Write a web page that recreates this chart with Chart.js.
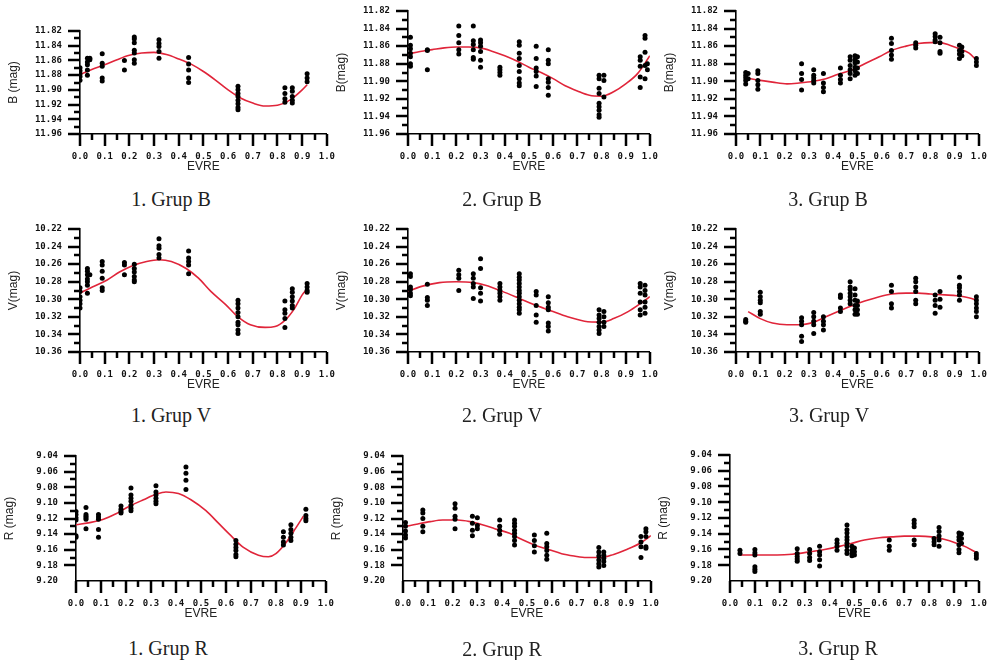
<!DOCTYPE html>
<html>
<head>
<meta charset="utf-8">
<script src="https://cdn.jsdelivr.net/npm/chart.js@4.4.0/dist/chart.umd.min.js"></script>
<style>
  body { margin: 0; background: #fff; }
  #wrap { position: relative; width: 991px; height: 660px; overflow: hidden; }
  #wrap canvas { position: absolute; }
  .ttl { position: absolute; font: 20px "Liberation Serif", "Times New Roman", serif; color: #222;
         transform: translate(-50%, -50%); white-space: nowrap; }
</style>
</head>
<body>
<div id="wrap"></div>
<script>
// --- Grup 1, B ---
const b1Phase = [0.00, 0.03, 0.04, 0.09, 0.18, 0.22, 0.32, 0.44, 0.64, 0.83, 0.86, 0.92];
const b1Mag = [
  [11.870, 11.874, 11.878, 11.882, 11.887],
  [11.857, 11.862, 11.866, 11.873, 11.880],
  [11.857, 11.859],
  [11.851, 11.864, 11.868, 11.884, 11.888],
  [11.860, 11.873],
  [11.828, 11.831, 11.836, 11.846, 11.850, 11.859, 11.864],
  [11.832, 11.837, 11.841, 11.848, 11.857],
  [11.856, 11.865, 11.873, 11.884, 11.890],
  [11.895, 11.900, 11.905, 11.909, 11.914, 11.919, 11.924, 11.927],
  [11.897, 11.905, 11.912, 11.917],
  [11.897, 11.902, 11.909, 11.914, 11.918],
  [11.878, 11.884, 11.889]
];
const b1FitX = [0.00, 0.05, 0.10, 0.15, 0.20, 0.25, 0.30, 0.35, 0.40, 0.45, 0.50, 0.55, 0.60, 0.65, 0.70, 0.75, 0.80, 0.85, 0.90, 0.92];
const b1Fit = [11.879, 11.872, 11.866, 11.859, 11.853, 11.850, 11.849, 11.852, 11.858, 11.865, 11.875, 11.887, 11.900, 11.911, 11.918, 11.922, 11.921, 11.914, 11.900, 11.893];

// --- Grup 2, B ---
const b2Phase = [0.01, 0.08, 0.21, 0.27, 0.30, 0.38, 0.46, 0.53, 0.58, 0.79, 0.81, 0.96, 0.98, 0.99];
const b2Mag = [
  [11.850, 11.859, 11.863, 11.868, 11.872, 11.880, 11.883],
  [11.864, 11.865, 11.887],
  [11.837, 11.848, 11.856, 11.864, 11.869],
  [11.837, 11.854, 11.858, 11.864, 11.873, 11.875],
  [11.853, 11.856, 11.860, 11.866, 11.876, 11.884],
  [11.884, 11.887, 11.890, 11.893],
  [11.855, 11.859, 11.868, 11.874, 11.882, 11.889, 11.897, 11.902, 11.905],
  [11.860, 11.874, 11.885, 11.889, 11.894, 11.906],
  [11.864, 11.876, 11.880, 11.897, 11.901, 11.907, 11.916],
  [11.893, 11.897, 11.908, 11.914, 11.925, 11.929, 11.933, 11.938, 11.941],
  [11.893, 11.899, 11.918],
  [11.872, 11.876, 11.883, 11.895, 11.907],
  [11.848, 11.851, 11.867, 11.882, 11.897],
  [11.880, 11.887]
];
const b2FitX = [0.00, 0.05, 0.10, 0.15, 0.20, 0.25, 0.30, 0.35, 0.40, 0.45, 0.50, 0.55, 0.60, 0.65, 0.70, 0.75, 0.80, 0.85, 0.90, 0.95, 1.00];
const b2Fit = [11.869, 11.866, 11.864, 11.862, 11.861, 11.861, 11.862, 11.866, 11.871, 11.877, 11.884, 11.890, 11.897, 11.905, 11.911, 11.916, 11.917, 11.912, 11.903, 11.891, 11.871];

// --- Grup 3, B ---
const b3Phase = [0.04, 0.05, 0.09, 0.27, 0.32, 0.36, 0.43, 0.47, 0.49, 0.50, 0.64, 0.74, 0.82, 0.84, 0.92, 0.93, 0.99];
const b3Mag = [
  [11.890, 11.893, 11.896, 11.899, 11.903],
  [11.891, 11.897],
  [11.888, 11.891, 11.899, 11.904, 11.909],
  [11.880, 11.891, 11.898, 11.910],
  [11.887, 11.893, 11.896, 11.899, 11.902],
  [11.891, 11.902, 11.907, 11.912],
  [11.885, 11.893, 11.898, 11.902],
  [11.872, 11.876, 11.882, 11.887, 11.891, 11.897],
  [11.871, 11.875, 11.879, 11.884, 11.888, 11.893],
  [11.872, 11.878, 11.885, 11.891],
  [11.851, 11.857, 11.865, 11.870, 11.875],
  [11.856, 11.859, 11.862],
  [11.846, 11.849, 11.853, 11.855],
  [11.850, 11.856, 11.866, 11.868],
  [11.859, 11.865, 11.869, 11.874],
  [11.861, 11.866, 11.871],
  [11.874, 11.878, 11.882]
];
const b3FitX = [0.04, 0.10, 0.15, 0.21, 0.26, 0.32, 0.37, 0.42, 0.48, 0.53, 0.59, 0.64, 0.70, 0.75, 0.80, 0.84, 0.88, 0.92, 0.96, 0.99];
const b3Fit = [11.896, 11.899, 11.901, 11.903, 11.902, 11.900, 11.897, 11.892, 11.887, 11.880, 11.872, 11.865, 11.860, 11.857, 11.856, 11.856, 11.859, 11.863, 11.868, 11.876];

// --- Grup 1, V ---
const v1Phase = [0.00, 0.03, 0.04, 0.09, 0.18, 0.22, 0.32, 0.44, 0.64, 0.83, 0.86, 0.92];
const v1Mag = [
  [10.287, 10.291, 10.297, 10.301, 10.305, 10.310],
  [10.265, 10.268, 10.272, 10.277, 10.280, 10.284, 10.293],
  [10.272],
  [10.257, 10.261, 10.268, 10.276, 10.287, 10.290],
  [10.258, 10.261, 10.272],
  [10.260, 10.265, 10.269, 10.274, 10.278, 10.280],
  [10.231, 10.239, 10.242, 10.249, 10.253],
  [10.245, 10.253, 10.257, 10.261, 10.271],
  [10.301, 10.305, 10.310, 10.315, 10.320, 10.326, 10.329, 10.335, 10.339],
  [10.302, 10.312, 10.316, 10.322, 10.332],
  [10.288, 10.292, 10.297, 10.302, 10.307, 10.310],
  [10.282, 10.286, 10.290, 10.292]
];
const v1FitX = [0.00, 0.05, 0.11, 0.16, 0.21, 0.27, 0.32, 0.37, 0.43, 0.48, 0.53, 0.59, 0.64, 0.69, 0.75, 0.79, 0.83, 0.87, 0.90, 0.92];
const v1Fit = [10.293, 10.286, 10.278, 10.269, 10.262, 10.257, 10.255, 10.257, 10.265, 10.276, 10.291, 10.306, 10.320, 10.329, 10.332, 10.331, 10.324, 10.310, 10.295, 10.288];

// --- Grup 2, V ---
const v2Phase = [0.01, 0.08, 0.21, 0.27, 0.30, 0.38, 0.46, 0.53, 0.58, 0.79, 0.81, 0.96, 0.98];
const v2Mag = [
  [10.271, 10.274, 10.286, 10.289, 10.293, 10.296],
  [10.283, 10.298, 10.301, 10.307],
  [10.267, 10.272, 10.276, 10.290],
  [10.271, 10.276, 10.282, 10.286, 10.299],
  [10.254, 10.265, 10.287, 10.293, 10.302],
  [10.282, 10.286, 10.290, 10.293, 10.297, 10.301],
  [10.271, 10.275, 10.278, 10.282, 10.286, 10.290, 10.293, 10.297, 10.301, 10.305, 10.309, 10.312, 10.316],
  [10.291, 10.295, 10.307, 10.318, 10.326],
  [10.297, 10.304, 10.309, 10.312, 10.327, 10.331, 10.336],
  [10.312, 10.318, 10.322, 10.326, 10.331, 10.335, 10.339],
  [10.314, 10.320, 10.326, 10.331],
  [10.282, 10.286, 10.293, 10.303, 10.312, 10.318],
  [10.284, 10.290, 10.295, 10.303, 10.309, 10.316]
];
const v2FitX = [0.00, 0.06, 0.13, 0.20, 0.27, 0.32, 0.39, 0.46, 0.52, 0.59, 0.66, 0.73, 0.80, 0.85, 0.91, 0.96, 1.00];
const v2Fit = [10.291, 10.285, 10.281, 10.280, 10.281, 10.284, 10.291, 10.299, 10.306, 10.313, 10.320, 10.325, 10.326, 10.322, 10.314, 10.305, 10.297];

// --- Grup 3, V ---
const v3Phase = [0.04, 0.10, 0.27, 0.32, 0.36, 0.43, 0.47, 0.49, 0.50, 0.64, 0.74, 0.82, 0.84, 0.92, 0.99];
const v3Mag = [
  [10.323, 10.325, 10.326],
  [10.292, 10.297, 10.301, 10.304, 10.314, 10.317],
  [10.321, 10.325, 10.329, 10.342, 10.348],
  [10.315, 10.320, 10.325, 10.329, 10.339],
  [10.320, 10.325, 10.329, 10.335],
  [10.295, 10.298, 10.310, 10.314],
  [10.280, 10.286, 10.289, 10.293, 10.297, 10.301, 10.305],
  [10.288, 10.295, 10.301, 10.307, 10.312, 10.317],
  [10.302, 10.307, 10.312, 10.317],
  [10.284, 10.291, 10.305, 10.310],
  [10.276, 10.280, 10.286, 10.291, 10.301, 10.305],
  [10.295, 10.301, 10.307, 10.316],
  [10.291, 10.300, 10.309],
  [10.275, 10.284, 10.287, 10.291, 10.295, 10.301],
  [10.297, 10.301, 10.305, 10.310, 10.314, 10.320]
];
const v3FitX = [0.05, 0.10, 0.15, 0.21, 0.26, 0.32, 0.37, 0.42, 0.48, 0.53, 0.59, 0.64, 0.70, 0.75, 0.80, 0.86, 0.91, 0.97, 0.99];
const v3Fit = [10.314, 10.322, 10.327, 10.329, 10.329, 10.326, 10.320, 10.314, 10.307, 10.302, 10.297, 10.294, 10.293, 10.293, 10.294, 10.295, 10.296, 10.299, 10.301];

// --- Grup 1, R ---
const r1Phase = [0.00, 0.04, 0.09, 0.18, 0.22, 0.32, 0.44, 0.64, 0.83, 0.86, 0.92];
const r1Mag = [
  [9.111, 9.115, 9.119, 9.122, 9.142, 9.144],
  [9.106, 9.115, 9.117, 9.119, 9.121, 9.133],
  [9.115, 9.118, 9.121, 9.134, 9.144],
  [9.104, 9.108, 9.111, 9.113],
  [9.081, 9.090, 9.094, 9.098, 9.103, 9.107, 9.110],
  [9.078, 9.086, 9.090, 9.094, 9.098, 9.101],
  [9.054, 9.062, 9.071, 9.083],
  [9.148, 9.153, 9.157, 9.161, 9.166, 9.169],
  [9.137, 9.144, 9.150, 9.154],
  [9.128, 9.134, 9.139, 9.144, 9.148],
  [9.108, 9.116, 9.120, 9.123]
];
const r1FitX = [0.00, 0.06, 0.11, 0.16, 0.21, 0.27, 0.32, 0.36, 0.41, 0.46, 0.52, 0.57, 0.62, 0.67, 0.73, 0.77, 0.80, 0.84, 0.88, 0.91];
const r1Fit = [9.128, 9.125, 9.121, 9.114, 9.105, 9.096, 9.089, 9.086, 9.088, 9.096, 9.110, 9.126, 9.142, 9.157, 9.167, 9.169, 9.165, 9.151, 9.132, 9.117];

// --- Grup 2, R ---
const r2Phase = [0.01, 0.08, 0.21, 0.28, 0.30, 0.39, 0.45, 0.53, 0.58, 0.79, 0.81, 0.96, 0.98];
const r2Mag = [
  [9.125, 9.130, 9.136, 9.141, 9.145],
  [9.109, 9.113, 9.120, 9.130, 9.137],
  [9.101, 9.107, 9.117, 9.121, 9.133],
  [9.117, 9.126, 9.135, 9.142],
  [9.119, 9.129, 9.133],
  [9.122, 9.130, 9.135, 9.140],
  [9.122, 9.126, 9.130, 9.135, 9.139, 9.143, 9.148, 9.154],
  [9.141, 9.148, 9.155, 9.163],
  [9.139, 9.152, 9.156, 9.161, 9.167, 9.172],
  [9.157, 9.163, 9.168, 9.173, 9.178, 9.182],
  [9.163, 9.167, 9.171, 9.175, 9.180],
  [9.143, 9.150, 9.156, 9.170],
  [9.133, 9.137, 9.143, 9.156, 9.158]
];
const r2FitX = [0.00, 0.06, 0.11, 0.16, 0.22, 0.27, 0.32, 0.37, 0.43, 0.48, 0.53, 0.59, 0.64, 0.69, 0.74, 0.80, 0.85, 0.90, 0.96, 1.00];
const r2Fit = [9.131, 9.127, 9.124, 9.122, 9.122, 9.124, 9.128, 9.133, 9.139, 9.147, 9.154, 9.160, 9.165, 9.168, 9.170, 9.170, 9.166, 9.160, 9.151, 9.142];

// --- Grup 3, R ---
const r3Phase = [0.04, 0.10, 0.27, 0.32, 0.36, 0.43, 0.47, 0.49, 0.50, 0.64, 0.74, 0.82, 0.84, 0.92, 0.93, 0.99];
const r3Mag = [
  [9.161, 9.165],
  [9.160, 9.164, 9.167, 9.182, 9.185, 9.188],
  [9.159, 9.165, 9.169, 9.172, 9.175],
  [9.160, 9.165, 9.170, 9.174],
  [9.156, 9.163, 9.167, 9.173, 9.181],
  [9.148, 9.152, 9.156, 9.161],
  [9.129, 9.135, 9.139, 9.144, 9.148, 9.152, 9.156, 9.161, 9.165],
  [9.156, 9.161, 9.165, 9.168],
  [9.158, 9.163, 9.167],
  [9.148, 9.156, 9.161],
  [9.123, 9.127, 9.131, 9.148, 9.154],
  [9.146, 9.150, 9.154],
  [9.132, 9.137, 9.143, 9.148, 9.156],
  [9.139, 9.144, 9.148, 9.154, 9.160, 9.164],
  [9.140, 9.146, 9.152],
  [9.165, 9.168, 9.171]
];
const r3FitX = [0.04, 0.12, 0.19, 0.25, 0.32, 0.38, 0.44, 0.49, 0.54, 0.60, 0.65, 0.70, 0.76, 0.81, 0.86, 0.91, 0.95, 0.99];
const r3Fit = [9.167, 9.167, 9.167, 9.166, 9.163, 9.160, 9.156, 9.152, 9.148, 9.145, 9.144, 9.143, 9.143, 9.144, 9.147, 9.152, 9.157, 9.164];

// eksen aralıkları
const bRange = [11.82, 11.96];
const vRange = [10.22, 10.36];
const rRange = [9.04, 9.20];

// box = [y ekseni x, 1.0 x, üst, alt]
const panels = [
  { ph: b1Phase, mag: b1Mag, fx: b1FitX, fy: b1Fit, range: bRange, yTitle: 'B (mag)', title: '1. Grup B', box: [80, 330, 31, 134], tpos: [171, 199] },
  { ph: b2Phase, mag: b2Mag, fx: b2FitX, fy: b2Fit, range: bRange, yTitle: 'B(mag)', title: '2. Grup B', box: [408, 653, 11, 134], tpos: [502, 199] },
  { ph: b3Phase, mag: b3Mag, fx: b3FitX, fy: b3Fit, range: bRange, yTitle: 'B(mag)', title: '3. Grup B', box: [736, 982, 11, 134], tpos: [828, 199] },
  { ph: v1Phase, mag: v1Mag, fx: v1FitX, fy: v1Fit, range: vRange, yTitle: 'V(mag)', title: '1. Grup V', box: [80, 330, 229, 352], tpos: [171, 415] },
  { ph: v2Phase, mag: v2Mag, fx: v2FitX, fy: v2Fit, range: vRange, yTitle: 'V(mag)', title: '2. Grup V', box: [408, 653, 229, 352], tpos: [502, 415] },
  { ph: v3Phase, mag: v3Mag, fx: v3FitX, fy: v3Fit, range: vRange, yTitle: 'V(mag)', title: '3. Grup V', box: [736, 982, 229, 352], tpos: [829, 415] },
  { ph: r1Phase, mag: r1Mag, fx: r1FitX, fy: r1Fit, range: rRange, yTitle: 'R (mag)', title: '1. Grup R', box: [76, 329, 456, 581], tpos: [168, 648] },
  { ph: r2Phase, mag: r2Mag, fx: r2FitX, fy: r2Fit, range: rRange, yTitle: 'R (mag)', title: '2. Grup R', box: [403, 654, 456, 581], tpos: [502, 649] },
  { ph: r3Phase, mag: r3Mag, fx: r3FitX, fy: r3Fit, range: rRange, yTitle: 'R (mag)', title: '3. Grup R', box: [730, 982, 455, 581], tpos: [838, 648] }
];

// çentikler: ana (0.1 / 0.02) uzun, ara (0.05 / 0.01) kısa
const axisTicks = {
  id: 'axisTicks',
  afterDraw(chart) {
    const { ctx, chartArea } = chart;
    const x = chart.scales.x, y = chart.scales.y;
    ctx.save();
    ctx.strokeStyle = '#000';
    ctx.lineWidth = 2.5;
    ctx.beginPath();
    for (let i = 0; i <= 20; i++) {
      const px = Math.round(x.getPixelForValue(i * 0.05));
      ctx.moveTo(px, chartArea.bottom);
      ctx.lineTo(px, chartArea.bottom + (i % 2 === 0 ? 12 : 6));
    }
    for (let i = 0; i <= 14; i++) {
      const py = Math.round(y.getPixelForValue(y.min + i * 0.01));
      ctx.moveTo(chartArea.left, py);
      ctx.lineTo(chartArea.left - (i % 2 === 0 ? 12 : 6), py);
    }
    ctx.stroke();
    ctx.restore();
  }
};

const tickFont = { family: '"DejaVu Sans Mono", monospace', size: 9, weight: 'bold' };
const axisFont = { family: '"Liberation Sans", Arial, sans-serif', size: 12 };
const wrap = document.getElementById('wrap');
const L = 75, R = 14, T = 16, B = 45;

panels.forEach(p => {
  const [ax, x1, top, bottom] = p.box;
  const cv = document.createElement('canvas');
  cv.width = x1 - ax + L + R;
  cv.height = bottom - top + T + B;
  cv.style.left = (ax - L) + 'px';
  cv.style.top = (top - T) + 'px';
  wrap.appendChild(cv);

  const t = document.createElement('div');
  t.className = 'ttl';
  t.textContent = p.title;
  t.style.left = p.tpos[0] + 'px';
  t.style.top = p.tpos[1] + 'px';
  wrap.appendChild(t);

  const pts = [];
  p.ph.forEach((ph, i) => p.mag[i].forEach(m => pts.push({ x: ph, y: m })));
  const fit = p.fx.map((x, i) => ({ x: x, y: p.fy[i] }));

  new Chart(cv, {
    type: 'scatter',
    data: {
      datasets: [
        { data: pts, backgroundColor: '#000', borderColor: '#000', pointRadius: 2.5, pointBorderWidth: 0, order: 1 },
        { data: fit, showLine: true, borderColor: '#e0253a', borderWidth: 1.6, pointRadius: 0,
          cubicInterpolationMode: 'monotone', fill: false, order: 2 }
      ]
    },
    options: {
      responsive: false,
      animation: false,
      events: [],
      layout: { padding: { left: 0, top: T, right: R, bottom: 0 } },
      plugins: { legend: { display: false }, tooltip: { enabled: false } },
      scales: {
        x: {
          type: 'linear', min: 0, max: 1,
          afterFit: s => { s.height = B; },
          ticks: { stepSize: 0.1, autoSkip: false, maxRotation: 0, padding: 9, color: '#111', font: tickFont,
                   callback: v => v.toFixed(1) },
          grid: { display: false },
          border: { display: true, color: '#000', width: 1.6 },
          title: { display: true, text: 'EVRE', color: '#222', font: axisFont, padding: { top: 0, bottom: 5 } }
        },
        y: {
          min: p.range[0], max: p.range[1], reverse: true,
          afterFit: s => { s.width = L; },
          ticks: { stepSize: 0.02, autoSkip: false, padding: 10, color: '#111', font: tickFont, callback: v => v.toFixed(2) },
          grid: { display: false },
          border: { display: true, color: '#000', width: 1.6 },
          title: { display: true, text: p.yTitle, color: '#222', font: axisFont, padding: { top: 1, bottom: 0 } }
        }
      }
    },
    plugins: [axisTicks]
  });
});
</script>
</body>
</html>
